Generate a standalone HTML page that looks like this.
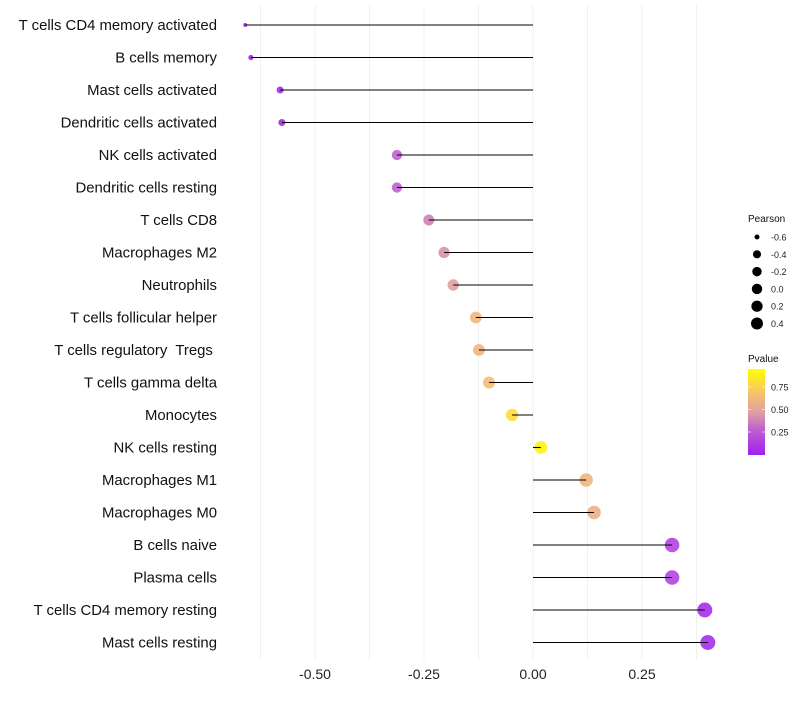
<!DOCTYPE html>
<html><head><meta charset="utf-8"><style>
body{margin:0;background:#fff;font-family:"Liberation Sans",sans-serif}
text{white-space:pre}
</style></head><body>
<svg id="c" width="800" height="700" xmlns="http://www.w3.org/2000/svg" font-family="Liberation Sans, sans-serif">
<defs><linearGradient id="pg" x1="0" y1="1" x2="0" y2="0">
<stop offset="0" stop-color="#a020f0"/><stop offset="0.3" stop-color="#c060d0"/><stop offset="0.5" stop-color="#e0a0a0"/><stop offset="0.7" stop-color="#f5be73"/><stop offset="1" stop-color="#ffff00"/></linearGradient></defs>
</svg>
<script>
const categories=["T cells CD4 memory activated","B cells memory","Mast cells activated","Dendritic cells activated","NK cells activated","Dendritic cells resting","T cells CD8","Macrophages M2","Neutrophils","T cells follicular helper","T cells regulatory  Tregs ","T cells gamma delta","Monocytes","NK cells resting","Macrophages M1","Macrophages M0","B cells naive","Plasma cells","T cells CD4 memory resting","Mast cells resting"];
const pearson=[-0.66,-0.647,-0.58,-0.576,-0.312,-0.312,-0.239,-0.204,-0.183,-0.131,-0.124,-0.101,-0.048,0.018,0.122,0.14,0.319,0.319,0.394,0.401];
const pvalue=[0.02,0.03,0.05,0.05,0.3,0.3,0.4,0.45,0.5,0.65,0.65,0.7,0.85,0.95,0.65,0.6,0.17,0.17,0.07,0.07];
const xTicks=[-0.5,-0.25,0,0.25];
const xTickLabels=["-0.50","-0.25","0.00","0.25"];
const sizeLegend=[-0.6,-0.4,-0.2,0.0,0.2,0.4];
const sizeLegendLabels=["-0.6","-0.4","-0.2","0.0","0.2","0.4"];
const pLegend=[0.25,0.5,0.75];
const pLegendLabels=["0.25","0.50","0.75"];
const NS="http://www.w3.org/2000/svg",svg=document.getElementById('c');
function mk(t,a,p){const e=document.createElementNS(NS,t);for(const k in a)e.setAttribute(k,a[k]);(p||svg).appendChild(e);return e;}
const X=v=>533+v*436;
const Y=i=>25+i*32.5;
const R=p=>2+5.5*Math.sqrt(Math.max(0,(p+0.66)/1.06));
const stops=[[0,[160,32,240]],[0.3,[192,96,208]],[0.5,[224,160,160]],[0.7,[245,190,115]],[1,[255,255,0]]];
function col(p){for(let i=1;i<stops.length;i++){if(p<=stops[i][0]){const a=stops[i-1],b=stops[i],t=(p-a[0])/(b[0]-a[0]);return 'rgb('+a[1].map((c,j)=>Math.round(c+(b[1][j]-c)*t)).join(',')+')';}}return 'rgb(255,255,0)';}
for(let v=-0.625;v<=0.45;v+=0.125){const g=mk('line',{x1:X(v),x2:X(v),y1:5,y2:660,stroke:'#f0f0f0','stroke-width':1});

}
xTicks.forEach((t,i)=>{const tx=mk('text',{x:X(t),y:679,'text-anchor':'middle','font-size':14,fill:'#222'});tx.textContent=xTickLabels[i];

});
categories.forEach((c,i)=>{
const l=mk('text',{x:217,y:Y(i)+5,'text-anchor':'end','font-size':14.9,fill:'#111'});l.textContent=c;


const d=mk('circle',{cx:X(pearson[i]),cy:Y(i),r:R(pearson[i]),fill:col(pvalue[i]),'fill-opacity':0.9});


const s=mk('line',{x1:X(0),x2:X(pearson[i]),y1:Y(i),y2:Y(i),stroke:'#000','stroke-width':1.1});


});
const t1=mk('text',{x:748,y:222,'font-size':10,fill:'#111'});t1.textContent='Pearson';


sizeLegend.forEach((v,i)=>{const y=237+i*17.3;
const c=mk('circle',{cx:757,cy:y,r:2.5+3.5*Math.sqrt((v+0.6)/1.0),fill:'#000'});


const t=mk('text',{x:771,y:y+3.5,'font-size':9,fill:'#222'});t.textContent=sizeLegendLabels[i];

});
const t2=mk('text',{x:748,y:362,'font-size':10,fill:'#111'});t2.textContent='Pvalue';


const bar=mk('rect',{x:748,y:369,width:17,height:86,fill:'url(#pg)'});


pLegend.forEach((v,i)=>{const y=432-(v-0.25)*90;
const t=mk('text',{x:771,y:y+3.5,'font-size':9,fill:'#222'});t.textContent=pLegendLabels[i];


mk('line',{x1:748,x2:751,y1:y,y2:y,stroke:'#fff','stroke-opacity':0.6});
mk('line',{x1:762,x2:765,y1:y,y2:y,stroke:'#fff','stroke-opacity':0.6});});
</script>
</body></html>
